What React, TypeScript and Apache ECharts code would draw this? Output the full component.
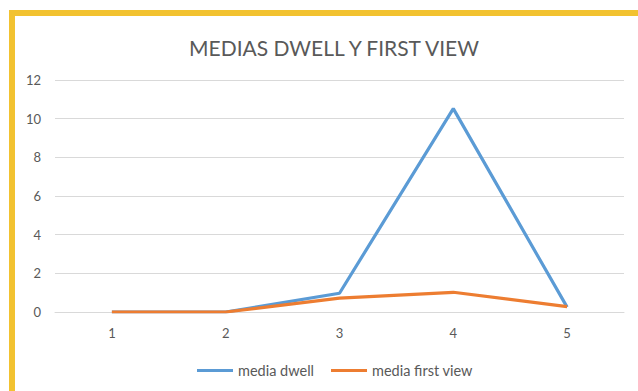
import React, { useEffect, useRef } from "react";
import * as echarts from "echarts";

const categories = ["1", "2", "3", "4", "5"];
const mediaDwell = [0, 0, 0.97, 10.52, 0.25];
const mediaFirstView = [0, 0, 0.72, 1.02, 0.28];
const titleText = "MEDIAS DWELL Y FIRST VIEW";

export default function App() {
  const ref = useRef<HTMLDivElement>(null);
  useEffect(() => {
    if (!ref.current) return;
    const chart = echarts.init(ref.current, undefined, { renderer: "svg" });
    const font = "Lato, 'Open Sans', sans-serif";
    chart.setOption({
      animation: false,
      title: {
        text: titleText,
        left: 329,
        textAlign: "center",
        top: 32,
        textStyle: { fontFamily: font, fontSize: 21, fontWeight: "normal", color: "#595959" },
      },
      legend: {
        top: 358,
        left: 192,
        itemWidth: 36,
        itemHeight: 3,
        itemGap: 17,
        icon: "rect",
        textStyle: { fontFamily: font, fontSize: 14.5, color: "#595959" },
        data: ["media dwell", "media first view"],
      },
      grid: { left: 55, right: 14, top: 80, bottom: 79, containLabel: false },
      xAxis: {
        type: "category",
        data: categories,
        boundaryGap: true,
        axisLine: { show: true, lineStyle: { color: "#D9D9D9" } },
        axisTick: { show: false },
        axisLabel: { color: "#595959", fontFamily: font, fontSize: 13, margin: 14 },
      },
      yAxis: {
        type: "value",
        min: 0,
        max: 12,
        interval: 2,
        axisLine: { show: false },
        axisTick: { show: false },
        splitLine: { lineStyle: { color: "#D9D9D9" } },
        axisLabel: { color: "#595959", fontFamily: font, fontSize: 13, margin: 14 },
      },
      series: [
        {
          name: "media dwell",
          type: "line",
          data: mediaDwell,
          symbol: "none",
          lineStyle: { color: "#5B9BD5", width: 3.2 },
          itemStyle: { color: "#5B9BD5" },
        },
        {
          name: "media first view",
          type: "line",
          data: mediaFirstView,
          symbol: "none",
          lineStyle: { color: "#ED7D31", width: 3.2 },
          itemStyle: { color: "#ED7D31" },
        },
      ],
    });
    return () => chart.dispose();
  }, []);
  return (
    <div style={{ position: "fixed", left: 0, top: 0, width: 638, height: 391, overflow: "hidden", background: "#fff" }}>
      <div
        style={{
          position: "absolute",
          left: 9,
          top: 10,
          width: 800,
          height: 600,
          borderTop: "6px solid #F2C230",
          borderLeft: "6px solid #F2C230",
        }}
      />
      <div ref={ref} style={{ position: "absolute", left: 0, top: 0, width: 638, height: 391 }} />
    </div>
  );
}
